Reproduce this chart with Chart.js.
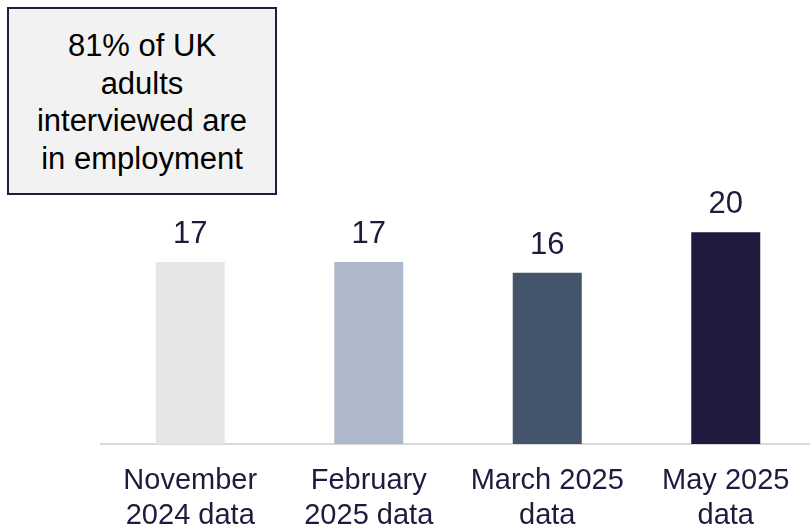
<!DOCTYPE html>
<html>
<head>
<meta charset="utf-8">
<script src="https://cdn.jsdelivr.net/npm/chart.js@4"></script>
<style>
  html, body { margin: 0; padding: 0; background: #ffffff; }
  #wrap { position: relative; width: 810px; height: 528px; overflow: hidden; background: #ffffff; }
  #c { position: absolute; left: 0; top: 0; }
  #note {
    position: absolute; left: 7px; top: 7px; width: 270px; height: 188px;
    border: 2px solid #221d40; background: #f2f2f2; box-sizing: border-box;
    font-family: 'Liberation Sans', Arial, sans-serif; font-size: 31px; line-height: 37.7px;
    color: #000000; text-align: center; padding-top: 18px;
  }
</style>
</head>
<body>
<div id="wrap">
  <canvas id="c" width="820" height="559"></canvas>
  <div id="note">81% of UK<br>adults<br>interviewed are<br>in employment</div>
</div>
<script>
const categories = [
  ["November", "2024 data"],
  ["February", "2025 data"],
  ["March 2025", "data"],
  ["May 2025", "data"]
];
const values = [17, 17, 16, 19.8];
const barColors = ["#e6e6e6", "#adb9ca", "#44546a", "#201a3e"];

const valueLabels = {
  id: 'valueLabels',
  afterDatasetsDraw(chart) {
    const ctx = chart.ctx;
    const meta = chart.getDatasetMeta(0);
    ctx.save();
    ctx.font = "31px 'Liberation Sans', Arial, sans-serif";
    ctx.fillStyle = "#201a3e";
    ctx.textAlign = "center";
    ctx.textBaseline = "alphabetic";
    meta.data.forEach((bar, i) => {
      ctx.fillText(String(Math.round(values[i])), bar.x, bar.y - 19);
    });
    ctx.restore();
  }
};

new Chart(document.getElementById('c'), {
  type: 'bar',
  data: {
    labels: categories,
    datasets: [{
      data: values,
      backgroundColor: barColors,
      borderWidth: 0,
      categoryPercentage: 1,
      barPercentage: 0.3866
    }]
  },
  options: {
    responsive: false,
    animation: false,
    devicePixelRatio: 1,
    layout: { padding: { left: 101, right: 5, top: 123, bottom: 7 } },
    plugins: { legend: { display: false }, tooltip: { enabled: false } },
    scales: {
      x: {
        grid: { display: false, drawTicks: false },
        border: { display: true, color: '#d9d9d9', width: 2 },
        ticks: {
          color: '#201a3e',
          padding: 19,
          maxRotation: 0,
          autoSkip: false,
          font: { family: "'Liberation Sans', Arial, sans-serif", size: 29, lineHeight: '35px' }
        }
      },
      y: {
        display: false,
        min: 0,
        max: 30
      }
    }
  },
  plugins: [valueLabels]
});
</script>
</body>
</html>
